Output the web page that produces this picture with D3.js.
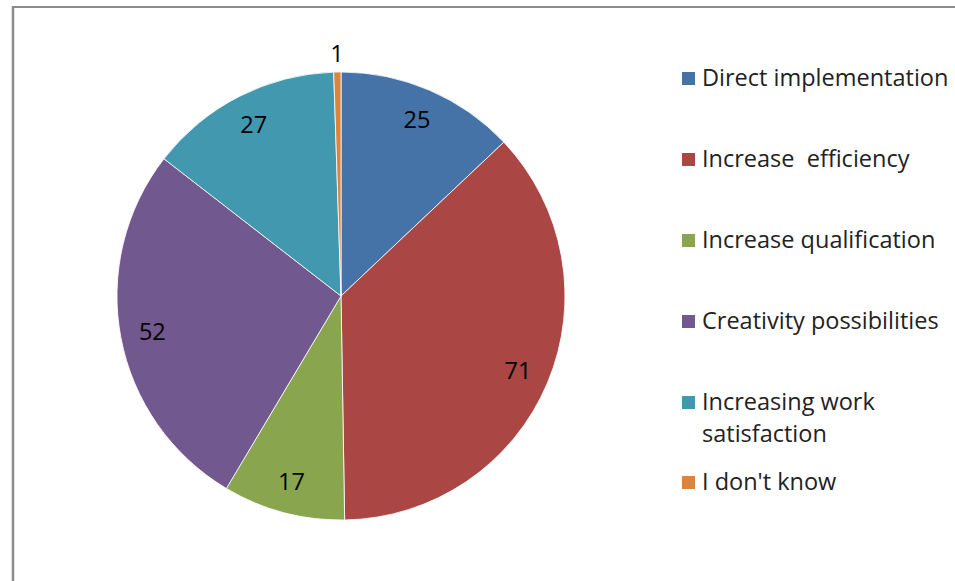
<!DOCTYPE html>
<html>
<head>
<meta charset="utf-8">
<script src="https://cdn.jsdelivr.net/npm/d3@7"></script>
<style>
  html, body { margin: 0; padding: 0; background: #fff; }
  svg { display: block; }
  text { white-space: pre; }
</style>
</head>
<body>
<div id="chart"></div>
<script>
const categories = ["Direct implementation", "Increase  efficiency", "Increase qualification",
                    "Creativity possibilities", "Increasing work satisfaction", "I don't know"];
const legendLines = [["Direct implementation"], ["Increase  efficiency"], ["Increase qualification"],
                     ["Creativity possibilities"], ["Increasing work", "satisfaction"], ["I don't know"]];
const values = [25, 71, 17, 52, 27, 1];
const colors = ["#4572A7", "#AA4643", "#89A54E", "#71588F", "#4198AF", "#DB843D"];

const W = 955, H = 581;
const FONT = "'Open Sans', sans-serif";

const svg = d3.select("#chart").append("svg")
  .attr("width", W)
  .attr("height", H);

// frame (only top + left edges visible in the crop)
svg.append("line").attr("x1", 13).attr("x2", W).attr("y1", 7).attr("y2", 7)
  .attr("stroke", "#8c8c8c").attr("stroke-width", 2);
svg.append("line").attr("x1", 13).attr("x2", 13).attr("y1", 6).attr("y2", H)
  .attr("stroke", "#8c8c8c").attr("stroke-width", 2.5);

const cx = 341, cy = 296, r = 224;
const g = svg.append("g").attr("transform", `translate(${cx},${cy})`);

const pie = d3.pie().sort(null).value(d => d)(values);
const arc = d3.arc().innerRadius(0).outerRadius(r);
const labelArc = d3.arc().innerRadius(192).outerRadius(192);
const outerArc = d3.arc().innerRadius(243).outerRadius(243);

g.selectAll("path")
  .data(pie)
  .join("path")
  .attr("d", arc)
  .attr("fill", (d, i) => colors[i])
  .attr("stroke", "#fff")
  .attr("stroke-width", 0.8);

g.selectAll("text.lbl")
  .data(pie)
  .join("text")
  .attr("class", "lbl")
  .attr("transform", d => {
    const small = (d.endAngle - d.startAngle) < 0.1;
    return `translate(${(small ? outerArc : labelArc).centroid(d)})`;
  })
  .attr("text-anchor", "middle")
  .attr("dy", "0.36em")
  .attr("font-family", FONT)
  .attr("font-size", 23.5)
  .attr("fill", "#000")
  .text(d => d.data);

// legend
const leg = svg.append("g").attr("transform", "translate(682,0)");
const rowY = [77.5, 158.5, 239.5, 320.5, 401.5, 481.5];
const item = leg.selectAll("g.item")
  .data(categories)
  .join("g")
  .attr("class", "item")
  .attr("transform", (d, i) => `translate(0,${rowY[i]})`);

item.append("rect")
  .attr("x", 0).attr("y", -5.5)
  .attr("width", 13).attr("height", 13)
  .attr("fill", (d, i) => colors[i]);

item.append("text")
  .attr("font-family", FONT)
  .attr("font-size", 23.5)
  .attr("fill", "#222")
  .selectAll("tspan")
  .data((d, i) => legendLines[i])
  .join("tspan")
  .attr("x", 20)
  .attr("dy", (d, j) => j === 0 ? "0.36em" : "1.36em")
  .text(d => d);
</script>
</body>
</html>
